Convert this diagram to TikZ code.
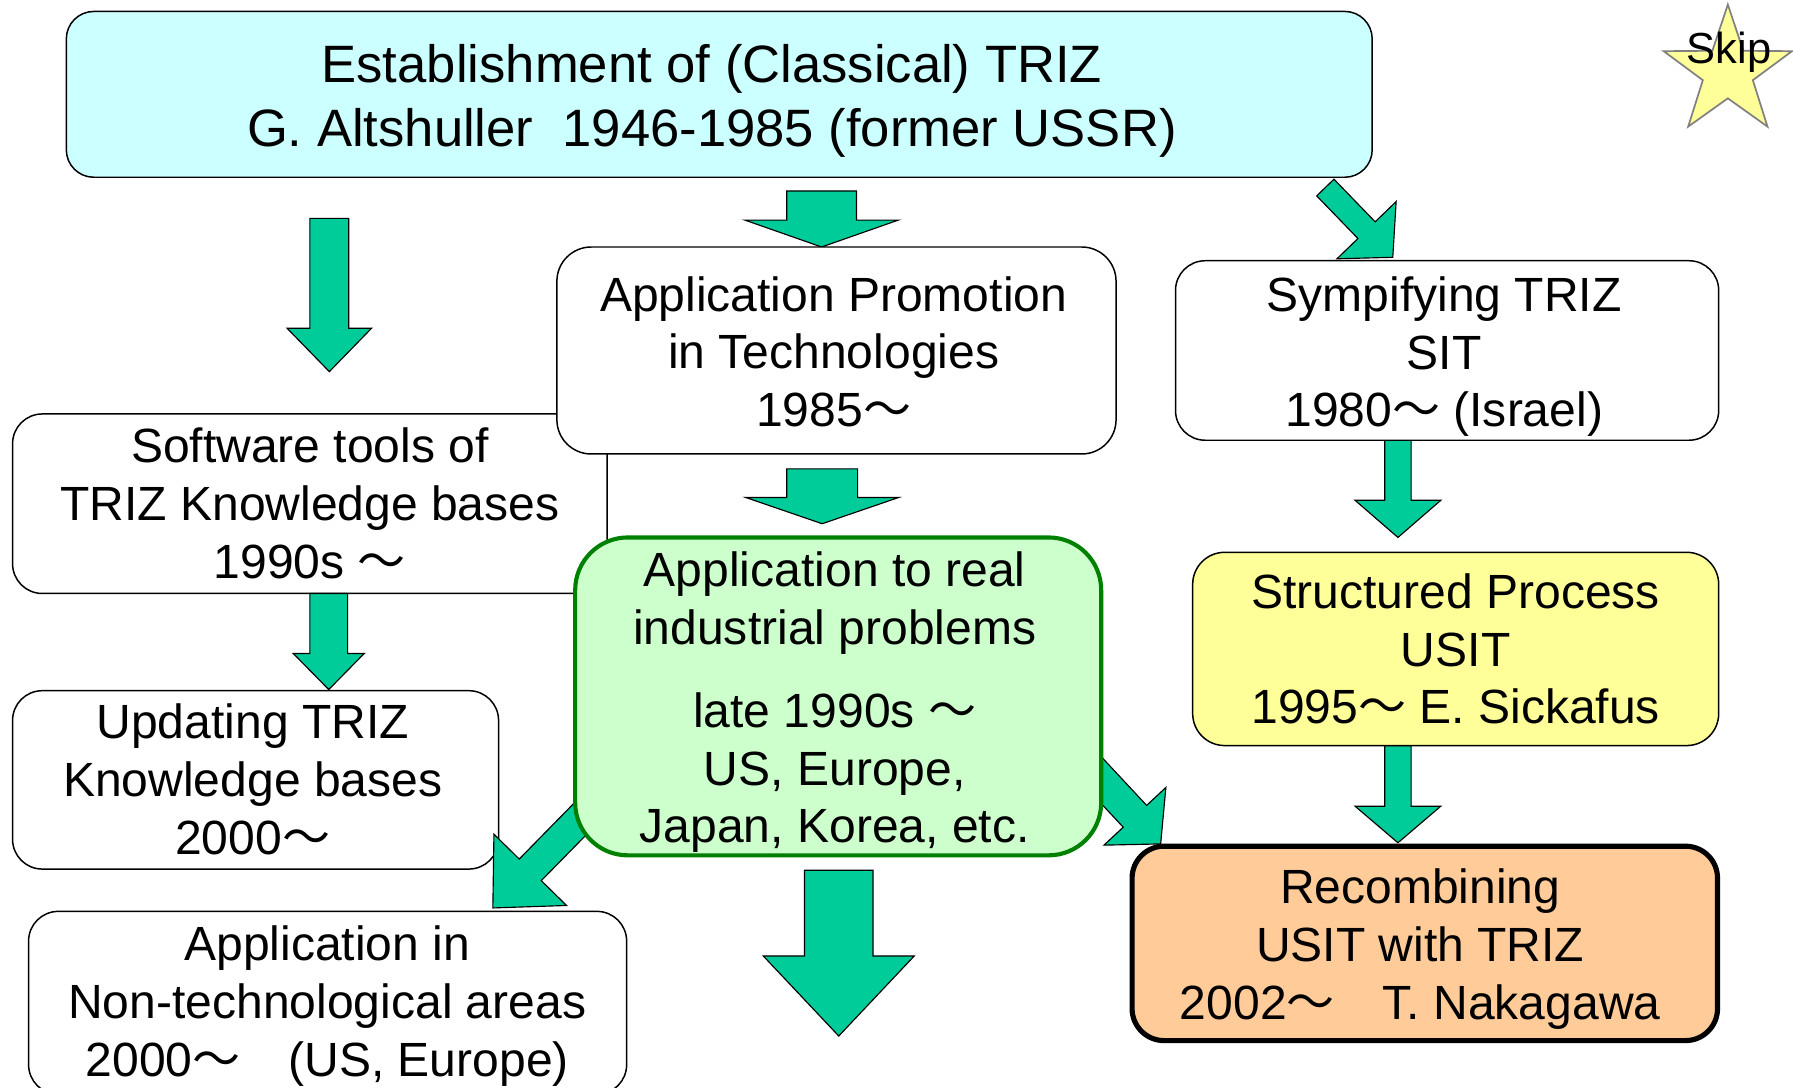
\documentclass[tikz,border=0pt]{standalone}
\usepackage{fontspec}
\setmainfont{Liberation Sans}
\newfontfamily\cjkfont{Noto Sans CJK JP}
\usetikzlibrary{calc}
\definecolor{cyanfill}{HTML}{CCFFFF}
\definecolor{greenfill}{HTML}{CCFFCC}
\definecolor{greenline}{HTML}{008000}
\definecolor{yellowfill}{HTML}{FFFF99}
\definecolor{orangefill}{HTML}{FFCC99}
\definecolor{arrowgreen}{HTML}{00CC99}
\definecolor{stargray}{HTML}{808080}
\newcommand{\wv}{{\cjkfont 〜}}
\newcommand{\isp}{{\cjkfont 　}}
% block arrow: #1 start, #2 tip, #3 half shaft width, #4 half head width, #5 head length
\newcommand{\blockarrow}[5]{%
  \coordinate (bah) at ($(#2)!#5!(#1)$);
  \draw[blockarr] ($(#1)!#3!90:(#2)$) -- ($(bah)!#3!90:(#2)$) -- ($(bah)!#4!90:(#2)$) -- (#2)
    -- ($(bah)!#4!-90:(#2)$) -- ($(bah)!#3!-90:(#2)$) -- ($(#1)!#3!-90:(#2)$) -- cycle;}
\begin{document}
\begin{tikzpicture}[x=1pt,y=-1pt,
  box/.style={draw=black, line width=1.3pt, fill=white, inner sep=0pt, rectangle},
  txt/.style={align=center, inner sep=0pt, font=\fontsize{42}{50.5}\selectfont},
  blockarr/.style={draw=black, line width=1pt, fill=arrowgreen, line join=miter},
  starsty/.style={draw=stargray, line width=1.5pt, fill=yellowfill, line join=miter}]
\useasboundingbox (0,0) rectangle (1568,951);
\clip (0,0) rectangle (1568,951);

% boxes lying underneath
\node[box, rounded corners=26pt, minimum width=520pt, minimum height=157pt] (soft) at (271,440.5) {};
\node[box, rounded corners=26pt, minimum width=425pt, minimum height=156pt] (upd) at (223.5,682) {};
\node[box, rounded corners=26pt, minimum width=523pt, minimum height=160pt] (nontech) at (286.5,877) {};

% arrow end points
\coordinate (aAs) at (288,191);     \coordinate (aAe) at (288,325);
\coordinate (aBs) at (718.5,167);   \coordinate (aBe) at (718.5,216);
\coordinate (aCs) at (1159,164);    \coordinate (aCe) at (1218,225);
\coordinate (aDs) at (719,410);     \coordinate (aDe) at (719,458);
\coordinate (aEs) at (287.5,519);   \coordinate (aEe) at (287.5,603);
\coordinate (aFs) at (536,687);     \coordinate (aFe) at (431,794);
\coordinate (aGs) at (933,650);     \coordinate (aGe) at (1015,738);
\coordinate (aHs) at (1222.5,385);  \coordinate (aHe) at (1222.5,470);
\coordinate (aIs) at (1222.5,652);  \coordinate (aIe) at (1222.5,737);
\coordinate (aJs) at (733.5,761);   \coordinate (aJe) at (733.5,906);

\blockarrow{aAs}{aAe}{17pt}{37pt}{38pt}
\blockarrow{aBs}{aBe}{30.5pt}{67pt}{23.5pt}
\blockarrow{aCs}{aCe}{10.5pt}{36pt}{33pt}
\blockarrow{aDs}{aDe}{31pt}{67pt}{23pt}
\blockarrow{aEs}{aEe}{16.5pt}{31pt}{31.5pt}
\blockarrow{aFs}{aFe}{13.5pt}{44.5pt}{46.7pt}
\blockarrow{aGs}{aGe}{14pt}{37pt}{33pt}
\blockarrow{aHs}{aHe}{11.5pt}{37.5pt}{32.5pt}
\blockarrow{aIs}{aIe}{11.5pt}{37.5pt}{32pt}
\blockarrow{aJs}{aJe}{30pt}{66pt}{70pt}

% boxes on top
\node[box, rounded corners=30pt, minimum width=489pt, minimum height=181pt] (promo) at (731.5,306.5) {};
\node[box, rounded corners=26pt, minimum width=475pt, minimum height=157pt] (sit) at (1265.5,306.5) {};
\node[box, draw=greenline, line width=3.6pt, fill=greenfill, rounded corners=46pt, minimum width=460pt, minimum height=278pt] (real) at (733,609) {};
\node[box, fill=yellowfill, rounded corners=28pt, minimum width=460pt, minimum height=169pt] (usit) at (1273,567.5) {};
\node[box, fill=orangefill, line width=4.5pt, rounded corners=28pt, minimum width=512pt, minimum height=170pt] (recomb) at (1246,825) {};
\node[box, fill=cyanfill, rounded corners=24pt, minimum width=1142pt, minimum height=145pt] (top) at (629,82.5) {};

% star
\draw[starsty, shift={(1511,63)}] (270:59) -- (306:23) -- (342:59) -- (18:23) -- (54:59)
  -- (90:23) -- (126:59) -- (162:23) -- (198:59) -- (234:23) -- cycle;

% texts
\node[txt, font=\fontsize{46}{56}\selectfont] (topt) at (622.5,88.5)
  {Establishment of (Classical) TRIZ\\G. Altshuller\ \ 1946-1985 (former USSR)};
\node[txt] (promot) at (729,307.6) {Application Promotion\\in Technologies\\1985\wv};
\node[txt] (sitt) at (1263,311.9) {Sympifying TRIZ\\SIT\\1980\wv{} (Israel)};
\node[txt] (softt) at (271,440) {Software tools of\\TRIZ Knowledge bases\\1990s \wv};
\node[txt] (updt) at (221,681.5) {Updating TRIZ\\Knowledge bases\\2000\wv};
\node[txt] (nontecht) at (286.2,880) {Application in\\Non-technological areas\\2000\wv\isp(US, Europe)};
\node[txt] (realt) at (730,614.3) {Application to real\\industrial problems\\[22pt]late 1990s \wv\\US, Europe,\\Japan, Korea, etc.};
\node[txt] (usitt) at (1273,567.5) {Structured Process\\USIT\\1995\wv{} E. Sickafus};
\node[txt] (recombt) at (1242,830) {Recombining\\USIT with TRIZ\\2002\wv\isp T. Nakagawa};
\node[txt, font=\fontsize{38}{42}\selectfont] (skip) at (1512,45.8) {Skip};
\end{tikzpicture}
\end{document}
